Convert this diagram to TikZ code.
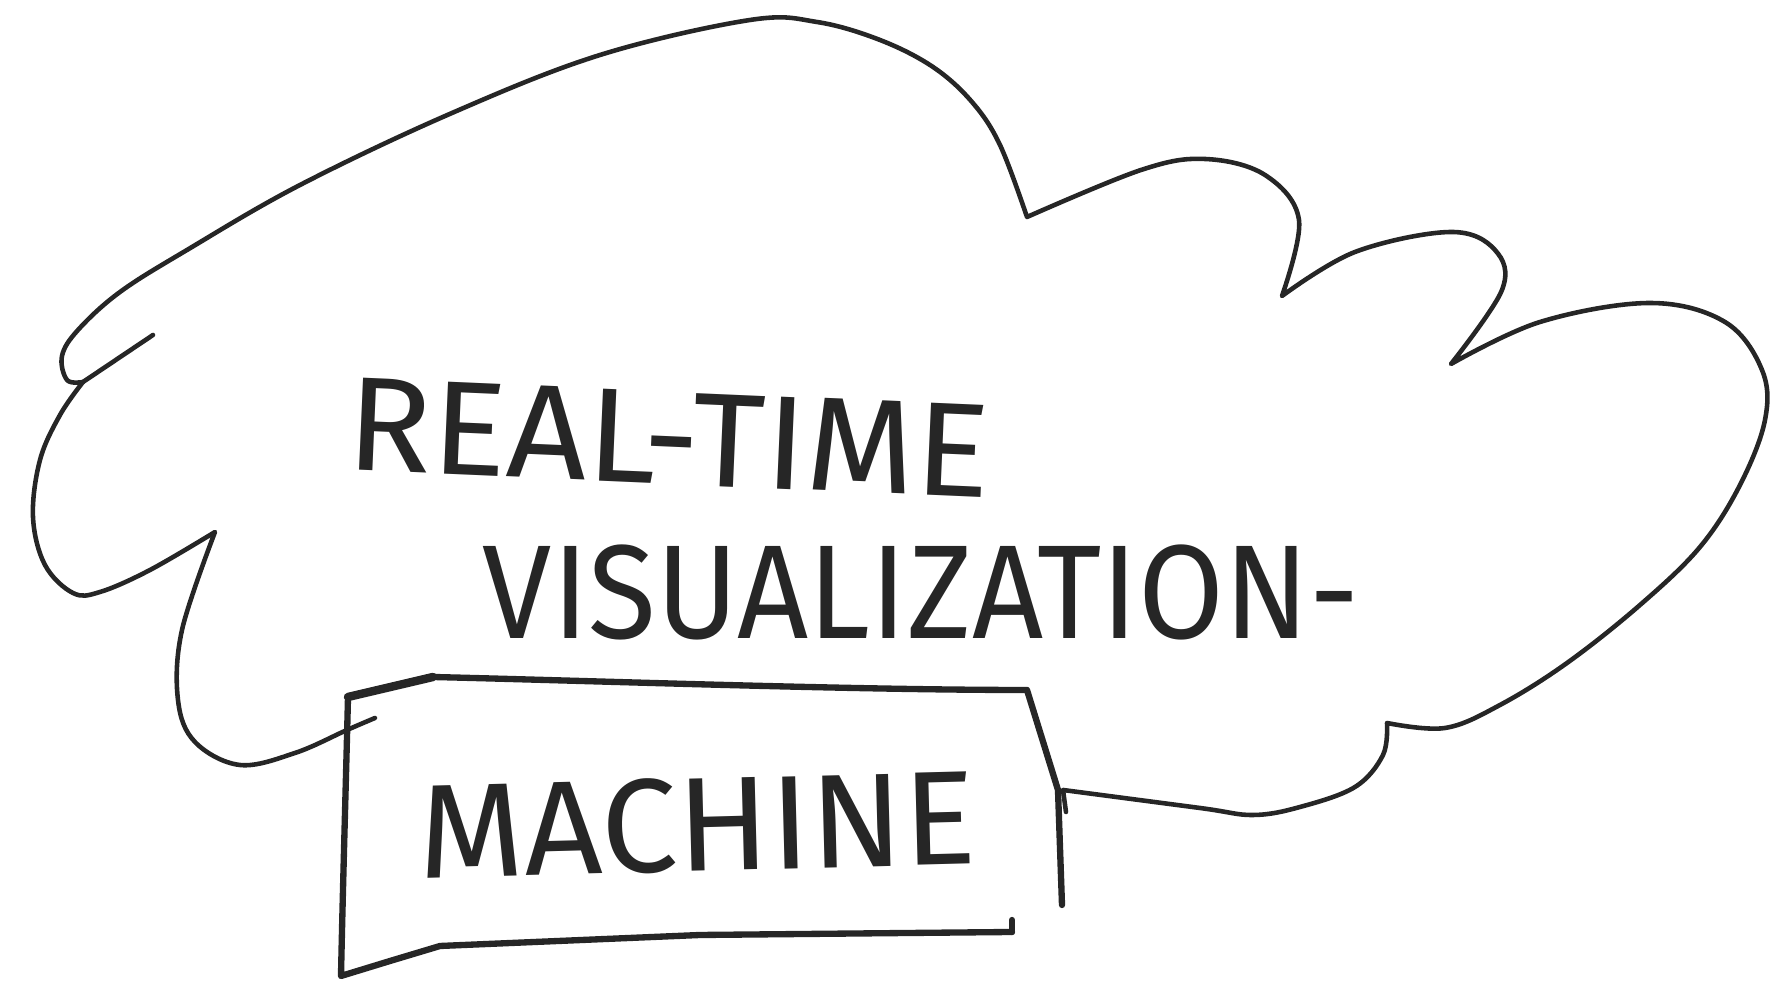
\documentclass[tikz,border=0pt]{standalone}
\usepackage{fontspec}
\setmainfont{Fira Sans}
\usepackage{graphicx}
\usetikzlibrary{calc}

\begin{document}
\begin{tikzpicture}[x=0.01cm, y=-0.01cm,
			cloudline/.style={
				draw=black!85, line width=1.3pt,
				line cap=round, line join=round
			},
			boxline/.style={
				draw=black!85, line width=1.8pt,
				line cap=round, line join=round
			},
			handtext/.style={
				font=\fontsize{38}{38}\selectfont, text=black!85,
				inner sep=0pt, anchor=center
			}
			]
			
			\useasboundingbox (0,0) rectangle (1771,986);
			
			% machine box corners
			\coordinate (boxtl) at (348,697);
			\coordinate (boxtr) at (1027,690);
			\coordinate (boxbr) at (1012,932);
			\coordinate (boxbl) at (341,976);
			
			% cloud outline
			\draw[cloudline] plot[smooth, tension=0.6] coordinates
			{(375,718) (347,730) (295,753) (240,765) (195,742) (178,700) (182,630) (215,532)}
			-- plot[smooth, tension=0.6] coordinates
			{(215,532) (150,570) (100,592) (73,593) (45,565) (33,517) (40,460) (60,415) (83,382)}
			-- (153,335);
			\draw[cloudline] plot[smooth, tension=0.6] coordinates
			{(83,382) (67,380) (62,356) (78,330) (120,292) (187,250) (300,185) (452,113)
				(600,55) (750,20) (817,22) (880,40) (933,67) (972,102) (1000,145) (1027,217)}
			-- plot[smooth, tension=0.6] coordinates
			{(1027,217) (1141,170) (1205,159) (1265,175) (1299,220) (1282,296)}
			-- plot[smooth, tension=0.6] coordinates
			{(1282,296) (1355,252) (1450,232) (1495,250) (1502,290) (1451,364)}
			-- plot[smooth, tension=0.6] coordinates
			{(1451,364) (1540,322) (1650,303) (1725,322) (1762,370) (1765,420) (1740,485)
				(1700,547) (1640,605) (1567,663) (1500,705) (1445,728) (1387,723)}
			-- plot[smooth, tension=0.6] coordinates
			{(1387,723) (1383,755) (1355,787) (1300,807) (1253,815) (1200,808) (1063,790)}
			-- (1066,812);
			
			% machine box
			\draw[boxline] (boxtl) -- (433,677) .. controls (600,681) and (850,690) .. (boxtr)
			-- (1058,790) -- (1062,905);
			\draw[boxline] (boxbr) -- (1012,920);
			\draw[boxline] (boxbr) -- (700,935) -- (440,946) -- (390,961) -- (boxbl)
			.. controls (343,880) and (346,780) .. (boxtl);
			\draw[boxline, line width=2.4pt] (boxtl) -- (433,677);
			
			\node[handtext, rotate=-2.5] (realtime) at (669,438)
			{\scalebox{1.05}[1]{REAL-TIME}};
			\node[handtext] (visual) at (921,592)
			{\scalebox{0.93}[1]{VISUALIZATION-}};
			\node[handtext, rotate=1.5] (machine) at (697,825)
			{\scalebox{1.02}[1]{MACHINE}};
			
		\end{tikzpicture}
\end{document}
